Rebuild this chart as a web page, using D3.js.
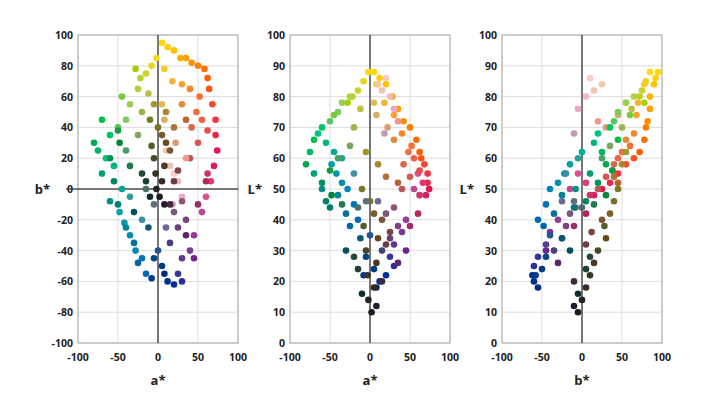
<!DOCTYPE html>
<html><head><meta charset="utf-8">
<script src="https://cdn.jsdelivr.net/npm/d3@7"></script>
<style>body{margin:0;background:#fff}text{font-family:"Open Sans",sans-serif;font-weight:700;fill:#222}</style>
</head><body><svg id="c" width="720" height="405"></svg>
<script>
const lightness=[88,86,84,80,76,72,70,66,62,88,85,82,80,78,84,78,74,68,64,60,
58,55,52,50,48,52,55,50,56,60,62,58,54,50,48,82,86,80,76,84,72,70,74,78,68,
40,36,32,28,25,22,20,18,24,30,34,38,42,26,30,44,46,35,28,22,
40,45,50,52,55,58,48,44,50,46,42,38,55,60,62,
65,68,62,58,70,72,75,78,74,66,55,52,48,60,64,70,76,80,56,45,
50,46,42,38,34,30,26,22,18,14,10,12,16,20,24,28,32,36,40,44,54,58,62,66,52,30,34,38,42,46];
const aStar=[5,12,20,28,35,42,50,58,62,-2,-8,-15,-22,-28,8,18,30,40,52,64,
68,72,72,74,70,66,60,55,62,55,48,42,50,40,62,15,20,25,30,10,35,22,8,5,18,
45,40,30,25,30,20,12,8,5,15,25,35,20,35,45,30,10,0,-5,-8,
-15,-20,-28,-35,-42,-48,-40,-50,-60,-55,-30,-25,-20,-35,-45,
-55,-65,-75,-80,-60,-50,-40,-35,-45,-70,-70,-60,-48,-40,-25,-20,-12,-25,-50,-35,
-10,0,5,-8,10,-5,8,-3,5,-2,2,8,-10,15,-15,-20,20,25,15,-15,20,10,-5,30,35,-30,-12,50,60,-5];
const bStar=[95,92,90,85,85,82,80,78,72,85,80,75,72,78,78,70,68,65,60,65,
55,45,35,25,15,5,-5,-15,38,45,50,40,30,20,10,15,10,5,-5,25,20,30,45,55,-10,
-30,-40,-45,-55,-60,-62,-60,-55,-50,-35,-25,-20,-15,-30,-45,-8,-25,-40,-45,-58,
-55,-45,-40,-30,-22,-15,-25,-10,-8,5,-35,-48,-20,-5,0,
15,20,25,30,35,40,45,55,60,45,10,20,30,25,35,50,62,65,38,15,
45,40,35,28,30,20,15,10,5,0,-5,-10,-5,-10,5,10,5,12,25,0,40,50,55,55,45,-15,-25,-10,5,-10];
const abTicksY=d3.range(-100,101,20), lTicks=d3.range(0,101,10), xTicks=d3.range(-100,101,50);

const pts=lightness.map((L,i)=>({L,a:aStar[i],b:bStar[i],c:d3.lab(L,aStar[i],bStar[i]).formatRgb()}));
const svg=d3.select("#c");
const topY=35,h=308,w=160;
const panels=[
 {x0:78,xk:"a",yk:"b",yd:[-100,100],yt:abTicksY,xl:"a*",yl:"b*",hz:true},
 {x0:290,xk:"a",yk:"L",yd:[0,100],yt:lTicks,xl:"a*",yl:"L*",hz:false},
 {x0:502,xk:"b",yk:"L",yd:[0,100],yt:lTicks,xl:"b*",yl:"L*",hz:false}];
panels.forEach(p=>{
 const g=svg.append("g");
 const x=d3.scaleLinear().domain([-100,100]).range([p.x0,p.x0+w]);
 const y=d3.scaleLinear().domain(p.yd).range([topY+h,topY]);
 g.selectAll(".gx").data(xTicks).join("line").attr("x1",x).attr("x2",x).attr("y1",topY).attr("y2",topY+h).attr("stroke","#ddd");
 g.selectAll(".gy").data(p.yt).join("line").attr("y1",y).attr("y2",y).attr("x1",p.x0).attr("x2",p.x0+w).attr("stroke","#ddd");
 g.append("rect").attr("x",p.x0).attr("y",topY).attr("width",w).attr("height",h).attr("fill","none").attr("stroke","#aaa");
 g.append("line").attr("x1",x(0)).attr("x2",x(0)).attr("y1",topY).attr("y2",topY+h).attr("stroke","#000");
 if(p.hz) g.append("line").attr("y1",y(0)).attr("y2",y(0)).attr("x1",p.x0-12).attr("x2",p.x0+w).attr("stroke","#000");
 g.selectAll("circle").data(pts).join("circle").attr("cx",d=>x(d[p.xk])).attr("cy",d=>y(d[p.yk])).attr("r",3.3).attr("fill",d=>d.c);
 g.selectAll(".tx").data(xTicks).join("text").attr("x",x).attr("y",topY+h+18).attr("text-anchor","middle").attr("font-size",10.5).text(d=>d);
 g.selectAll(".ty").data(p.yt).join("text").attr("x",p.x0-5).attr("y",d=>y(d)+4).attr("text-anchor","end").attr("font-size",10.5).text(d=>d);
 g.append("text").attr("x",x(0)).attr("y",topY+h+42).attr("text-anchor","middle").attr("font-size",13).text(p.xl);
 g.append("text").attr("x",p.x0-28).attr("y",topY+h/2+5).attr("text-anchor","end").attr("font-size",13).text(p.yl);
});
</script></body></html>
